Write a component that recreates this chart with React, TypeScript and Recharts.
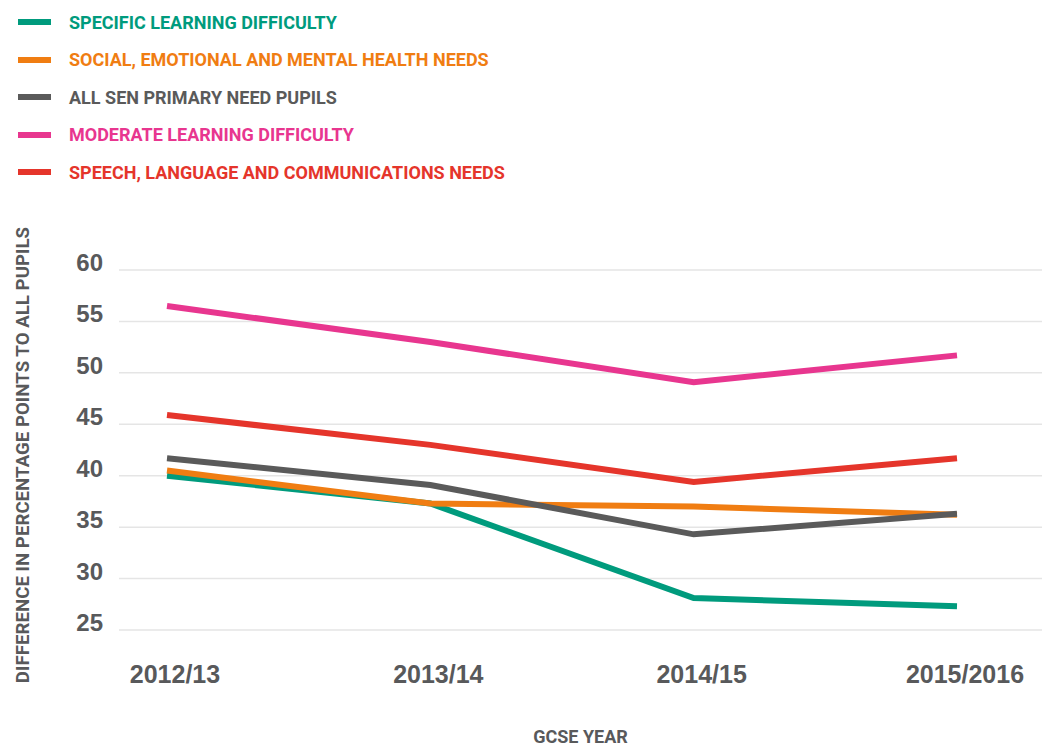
import React from 'react';
import { LineChart, Line, XAxis, YAxis, CartesianGrid } from 'recharts';

const years = ['2012/13', '2013/14', '2014/15', '2015/2016'];
const specificLearning = [40.0, 37.3, 28.1, 27.3];
const socialEmotional = [40.5, 37.3, 37.0, 36.2];
const allSen = [41.7, 39.1, 34.3, 36.3];
const moderateLearning = [56.5, 53.0, 49.1, 51.7];
const speechLanguage = [45.9, 43.0, 39.4, 41.7];
const yTicks = [25, 30, 35, 40, 45, 50, 55, 60];

const series = [
  { key: 'sld', name: 'SPECIFIC LEARNING DIFFICULTY', color: '#009b7d', values: specificLearning },
  { key: 'semh', name: 'SOCIAL, EMOTIONAL AND MENTAL HEALTH NEEDS', color: '#f07d12', values: socialEmotional },
  { key: 'sen', name: 'ALL SEN PRIMARY NEED PUPILS', color: '#5a5a5a', values: allSen },
  { key: 'mld', name: 'MODERATE LEARNING DIFFICULTY', color: '#e8368f', values: moderateLearning },
  { key: 'slcn', name: 'SPEECH, LANGUAGE AND COMMUNICATIONS NEEDS', color: '#e5352b', values: speechLanguage },
];

const data = years.map((year, i) => {
  const row: Record<string, string | number> = { year };
  series.forEach(s => { row[s.key] = s.values[i]; });
  return row;
});

const narrow = 'Roboto, sans-serif';
const regular = '"Liberation Sans", Arial, sans-serif';
const textGray = '#58595b';

const XTick = ({ x, y, payload }: any) => (
  <text x={x + 8} y={y + 53} textAnchor="middle" fill={textGray} fontFamily={regular} fontWeight={700} fontSize={25}>
    {payload.value}
  </text>
);

const YTick = ({ x, y, payload }: any) => (
  <text x={x} y={y + 1} textAnchor="end" fill={textGray} fontFamily={regular} fontWeight={700} fontSize={24}>
    {payload.value}
  </text>
);

const YTitle = ({ viewBox }: any) => {
  const cx = 23;
  const cy = viewBox.y + viewBox.height / 2 + 5;
  return (
    <text x={cx} y={cy} transform={`rotate(-90 ${cx} ${cy})`} textAnchor="middle" dominantBaseline="central"
      fill={textGray} fontFamily={narrow} fontWeight={700} fontSize={18.7}>
      DIFFERENCE IN PERCENTAGE POINTS TO ALL PUPILS
    </text>
  );
};

const XTitle = ({ viewBox }: any) => (
  <text x={viewBox.x + viewBox.width / 2} y={743} textAnchor="middle" fill={textGray}
    fontFamily={narrow} fontWeight={700} fontSize={18}>
    GCSE YEAR
  </text>
);

export default function App() {
  return (
    <div style={{ position: 'absolute', left: 0, top: 0, width: 1042, height: 746, background: '#fff' }}>
      <div style={{ position: 'absolute', left: 0, top: 0 }}>
        {series.map((s, i) => (
          <div key={s.key} style={{ position: 'absolute', top: 22 + i * 37.5 - 12, left: 18, height: 24, display: 'flex', alignItems: 'center', whiteSpace: 'nowrap' }}>
            <span style={{ width: 33, height: 6, background: s.color, display: 'inline-block' }} />
            <span style={{ marginLeft: 18, color: s.color, fontFamily: narrow, fontWeight: 700, fontSize: 18 }}>{s.name}</span>
          </div>
        ))}
      </div>
      <LineChart width={1042} height={746} data={data} margin={{ top: 270, right: 0, left: 0, bottom: 0 }}>
        <CartesianGrid vertical={false} stroke="#e5e5e5" strokeWidth={1.5} />
        <XAxis dataKey="year" axisLine={false} tickLine={false} tickSize={0} tickMargin={0} height={116}
          padding={{ left: 48, right: 85 }} tick={<XTick />} interval={0} label={<XTitle />} />
        <YAxis domain={[25, 60]} ticks={yTicks} axisLine={false} tickLine={false} tickSize={0} tickMargin={16}
          width={119} tick={<YTick />} interval={0} label={<YTitle />} />
        {series.map(s => (
          <Line key={s.key} dataKey={s.key} name={s.name} stroke={s.color} strokeWidth={6} dot={false}
            activeDot={false} isAnimationActive={false} type="linear" />
        ))}
      </LineChart>
    </div>
  );
}
